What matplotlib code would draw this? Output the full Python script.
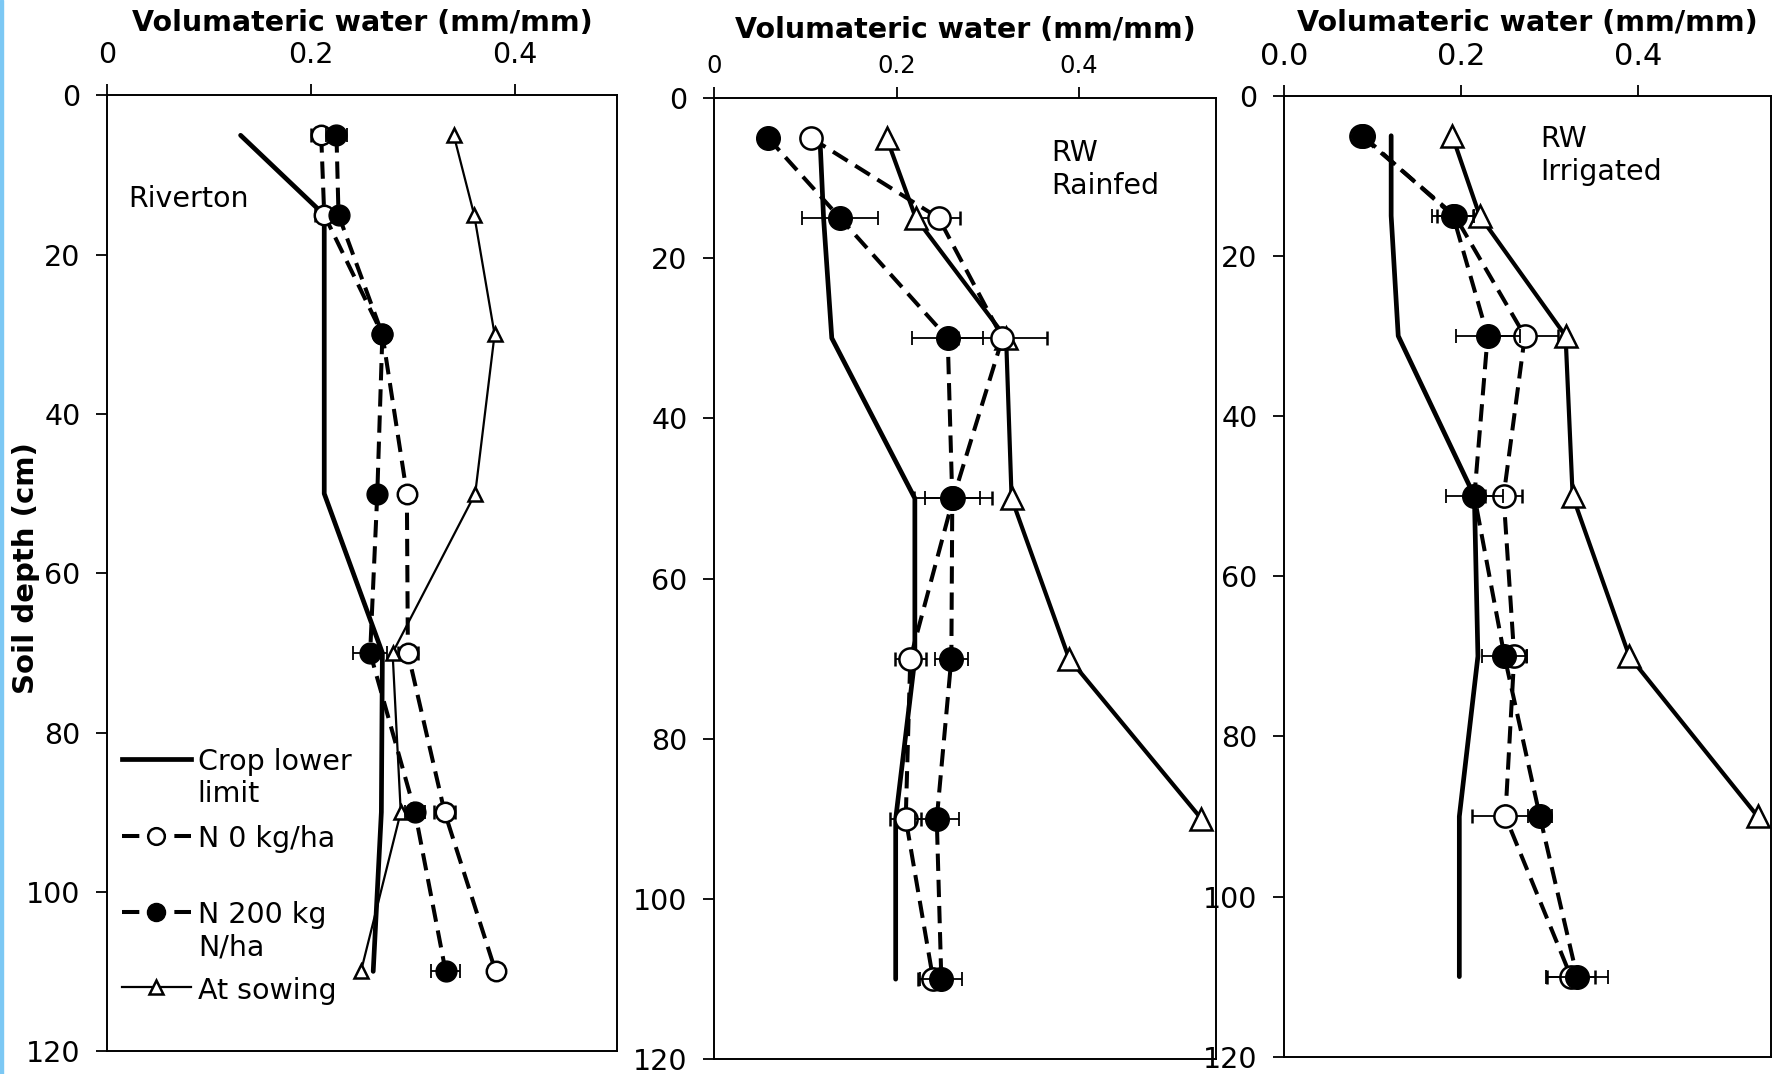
import matplotlib.pyplot as plt
from matplotlib.lines import Line2D
from matplotlib.patches import Rectangle

# soil depth (cm) of each sample
depth = [5, 15, 30, 50, 70, 90, 110]

# Riverton
riv_cll = [0.131, 0.213, 0.213, 0.213, 0.270, 0.269, 0.261]
riv_n0 = [0.210, 0.213, 0.270, 0.294, 0.295, 0.331, 0.381]
riv_n0_err = [0.010, 0.009, 0.004, 0.004, 0.010, 0.010, 0.005]
riv_n200 = [0.225, 0.227, 0.270, 0.265, 0.258, 0.302, 0.332]
riv_n200_err = [0.010, 0.004, 0.004, 0.004, 0.017, 0.010, 0.014]
riv_sow_depth = [5, 15, 30, 50, 70, 90, 110]
riv_sow = [0.340, 0.360, 0.380, 0.361, 0.280, 0.288, 0.249]

# RW rainfed
rf_cll = [0.116, 0.120, 0.129, 0.220, 0.220, 0.199, 0.199]
rf_n0 = [0.106, 0.246, 0.316, 0.262, 0.215, 0.210, 0.240]
rf_n0_err = [0.005, 0.024, 0.049, 0.043, 0.017, 0.017, 0.017]
rf_n200 = [0.059, 0.138, 0.256, 0.261, 0.260, 0.244, 0.249]
rf_n200_err = [0.003, 0.042, 0.039, 0.030, 0.018, 0.024, 0.023]
rf_sow_depth = [5, 15, 30, 50, 70, 90]
rf_sow = [0.189, 0.221, 0.320, 0.326, 0.389, 0.534]

# RW irrigated
ir_cll = [0.121, 0.121, 0.129, 0.215, 0.219, 0.198, 0.198]
ir_n0 = [0.087, 0.193, 0.272, 0.248, 0.260, 0.250, 0.324]
ir_n0_err = [0.010, 0.020, 0.038, 0.021, 0.013, 0.038, 0.027]
ir_n200 = [0.089, 0.191, 0.230, 0.215, 0.249, 0.289, 0.331]
ir_n200_err = [0.006, 0.024, 0.036, 0.032, 0.025, 0.014, 0.035]
ir_sow_depth = [5, 15, 30, 50, 70, 90]
ir_sow = [0.190, 0.221, 0.318, 0.326, 0.390, 0.535]

x_ticks = [0, 0.2, 0.4]
x_labels_a = ["0", "0.2", "0.4"]
x_labels_b = ["0.0", "0.2", "0.4"]
y_ticks = [0, 20, 40, 60, 80, 100, 120]
legend_labels = ["Crop lower\nlimit", "N 0 kg/ha", "N 200 kg\nN/ha", "At sowing"]

plt.rcParams['font.family'] = ['DejaVu Sans']

fig = plt.figure(figsize=(17.74, 10.74), dpi=100)
fig.patches.append(Rectangle((0, 0), 3 / 1774, 1, transform=fig.transFigure,
                             color="#7cc8f4", zorder=0))

DASH = (0, (4.3, 2.2))
FS = 20.5


def panel(rect, cll, n0, n0e, n200, n200e, sd, sow, xmax, xlabels,
          xfs, xpad, title_y, circ, tri, sow_lw):
    ax = fig.add_axes(rect)
    ax.plot(cll, depth, color="black", lw=3.4, solid_capstyle="round", zorder=2)
    ax.errorbar(n0, depth, xerr=n0e, color="black", ls=DASH, lw=2.9,
                marker="o", ms=circ, mfc="white", mec="black", mew=1.8,
                ecolor="black", elinewidth=1.3, capsize=5, capthick=1.3, zorder=3)
    ax.errorbar(n200, depth, xerr=n200e, color="black", ls=DASH, lw=2.9,
                marker="o", ms=circ + 1, mfc="black", mec="black",
                ecolor="black", elinewidth=1.3, capsize=5, capthick=1.3, zorder=4)
    ax.plot(sow, sd, color="black", lw=sow_lw, marker="^", ms=tri,
            mfc="white", mec="black", mew=1.8, zorder=3)
    ax.set_xlim(0, xmax)
    ax.set_ylim(120, 0)
    ax.set_xticks(x_ticks)
    ax.set_xticklabels(xlabels)
    ax.set_yticks(y_ticks)
    ax.xaxis.tick_top()
    ax.xaxis.set_label_position("top")
    ax.tick_params(direction="out", length=8, width=1.3, labelsize=FS, pad=11)
    ax.tick_params(axis="x", labelsize=xfs, pad=xpad)
    for s in ax.spines.values():
        s.set_linewidth(1.4)
    ax.set_xlabel("Volumateric water (mm/mm)", fontsize=20.5, fontweight="bold")
    ax.xaxis.set_label_coords(0.5, title_y)
    return ax


ax1 = panel([0.0603, 0.0214, 0.2875, 0.8897], riv_cll, riv_n0, riv_n0_err,
            riv_n200, riv_n200_err, riv_sow_depth, riv_sow, 0.5, x_labels_a,
            20.5, 11, 1.067, 14, 10, 1.6)
ax2 = panel([0.4025, 0.0137, 0.2830, 0.8953], rf_cll, rf_n0, rf_n0_err,
            rf_n200, rf_n200_err, rf_sow_depth, rf_sow, 0.55, x_labels_a,
            17.5, 6, 1.062, 16, 16, 3.0)
ax3 = panel([0.7238, 0.0161, 0.2745, 0.8948], ir_cll, ir_n0, ir_n0_err,
            ir_n200, ir_n200_err, ir_sow_depth, ir_sow, 0.55, x_labels_b,
            22, 9.5, 1.067, 16, 16, 3.0)

ax1.text(0.041, 0.906, "Riverton", transform=ax1.transAxes, fontsize=FS,
         va="top", ha="left")
ax2.text(0.671, 0.957, "RW\nRainfed", transform=ax2.transAxes, fontsize=FS,
         va="top", ha="left", linespacing=1.22)
ax3.text(0.526, 0.969, "RW\nIrrigated", transform=ax3.transAxes, fontsize=FS,
         va="top", ha="left", linespacing=1.22)

fig.text(0.0147, 0.471, "Soil depth (cm)", rotation=90, fontsize=21,
         fontweight="bold", ha="center", va="center")

# legend, drawn by hand so the handle sits on the first text line
handles = [
    dict(color="black", lw=3.4, marker=None),
    dict(color="black", lw=2.9, ls=DASH, marker="o", ms=12, mfc="white", mec="black", mew=1.8),
    dict(color="black", lw=2.9, ls=DASH, marker="o", ms=13, mfc="black", mec="black"),
    dict(color="black", lw=1.6, marker="^", ms=10, mfc="white", mec="black", mew=1.8),
]
handle_y = [0.3056, 0.2250, 0.1455, 0.0670]
text_y = [0.3175, 0.2369, 0.1573, 0.0778]
for h, hy, ty, lab in zip(handles, handle_y, text_y, legend_labels):
    ax1.add_line(Line2D([0.029, 0.165], [hy, hy], transform=ax1.transAxes,
                        **{k: v for k, v in h.items()
                           if k not in ("marker", "ms", "mfc", "mec", "mew")}))
    if h["marker"]:
        ax1.add_line(Line2D([0.097], [hy], transform=ax1.transAxes, ls="none",
                            **{k: v for k, v in h.items() if k not in ("lw", "ls")}))
    ax1.text(0.178, ty, lab, transform=ax1.transAxes, fontsize=FS,
             va="top", ha="left", linespacing=1.22)

fig.savefig("out.png", dpi=100)
